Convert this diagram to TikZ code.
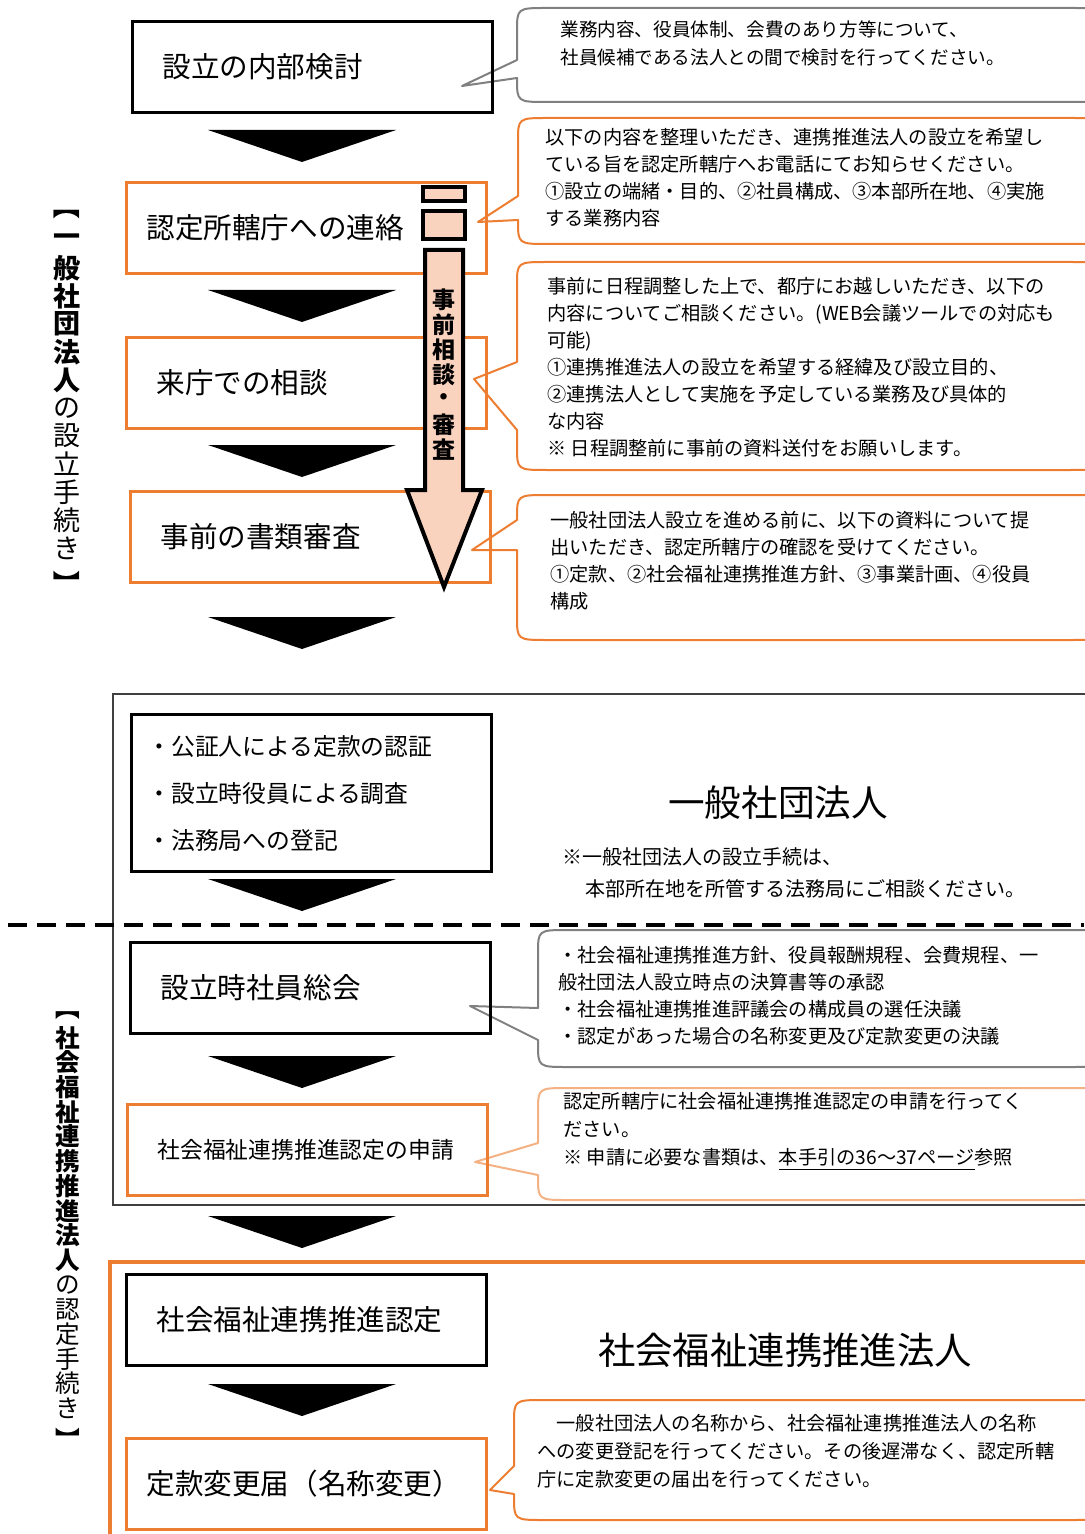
\documentclass[tikz,border=0pt]{standalone}
\usepackage{fontspec}
\usepackage{graphicx}
\setmainfont{Noto Sans CJK JP}
\usetikzlibrary{positioning}

\definecolor{boxorange}{HTML}{ED7D31}
\definecolor{arrowfill}{HTML}{FAD3BE}
\definecolor{bubblegray}{HTML}{808080}
\definecolor{bubbletan}{HTML}{F4B183}
\definecolor{framegray}{HTML}{404040}

% speech bubble: style, left, top, right, bottom, pointer tip, base top, base bottom
\newcommand{\bubble}[8]{%
  \draw[#1] (#6) -- (#2,#7) -- (#2,#3+24) .. controls (#2,#3) .. (#2+30,#3)
    -- (#4-30,#3) .. controls (#4,#3) .. (#4,#3+24) -- (#4,#5-24)
    .. controls (#4,#5) .. (#4-30,#5) -- (#2+30,#5) .. controls (#2,#5) .. (#2,#5-24)
    -- (#2,#8) -- cycle;}

\tikzset{
  box/.style={draw, line width=1.5pt, anchor=north west, minimum height=45.5pt,
    inner xsep=15pt, text width=150pt, align=left,
    font=\fontsize{14.3pt}{17pt}\selectfont},
  orangebox/.style={box, draw=boxorange},
  note/.style={anchor=north west, inner sep=0pt, align=left,
    font=\fontsize{9.6pt}{13.5pt}\selectfont},
  grayline/.style={draw=bubblegray, line width=1pt, fill=white, line join=round},
  orangeline/.style={draw=boxorange, line width=1pt, fill=white, line join=round},
  tanline/.style={draw=bubbletan, line width=1pt, fill=white, line join=round},
  vchar/.style={inner sep=0pt, font=\fontsize{13.5pt}{13.5pt}\selectfont},
  vcharb/.style={vchar, font=\fontsize{13.5pt}{13.5pt}\selectfont\bfseries},
  wchar/.style={inner sep=0pt, font=\fontsize{12.3pt}{12.3pt}\selectfont},
  wcharb/.style={wchar, font=\fontsize{12.3pt}{12.3pt}\selectfont\bfseries},
}

\begin{document}
\begin{tikzpicture}[x=0.5pt, y=-0.5pt]
\useasboundingbox (0,0) rectangle (1084,1534);

% frames
\draw[framegray, line width=1pt] (113,694) rectangle (1100,1205);
\draw[boxorange, line width=2pt] (110,1262) rectangle (1100,1545);

% speech bubbles
\bubble{grayline}{517}{8}{1100}{102}{462,86}{60}{78}
\bubble{orangeline}{518}{118}{1100}{244}{478,222}{196}{220}
\bubble{orangeline}{517}{262}{1100}{470}{474,379}{362}{430}
\bubble{orangeline}{517}{495}{1100}{640}{472,550}{520}{550}
\bubble{grayline}{538}{930}{1100}{1067}{470,1006}{1008}{1040}
\bubble{tanline}{538}{1088}{1100}{1200}{475,1162}{1143}{1175}
\bubble{orangeline}{514}{1400}{1100}{1520}{490,1490}{1466}{1494}

% steps
\node[box] (naibu) at (131,20) {設立の内部検討};
\node[orangebox] (renraku) at (125,181) {\hspace*{-5pt}認定所轄庁への連絡};
\node[orangebox] (soudan) at (125,336) {来庁での相談};
\node[orangebox] (shinsa) at (129,490) {事前の書類審査};
\node[box, minimum height=78.5pt, inner xsep=8pt, text width=164pt,
  font=\fontsize{11.9pt}{23.5pt}\selectfont] (houmu) at (130,713)
  {・公証人による定款の認証\\・設立時役員による調査\\・法務局への登記};
\node[box] (soukai) at (129,941) {設立時社員総会};
\node[orangebox, font=\fontsize{11.4pt}{14pt}\selectfont] (shinsei) at (126,1103)
  {社会福祉連携推進認定の申請};
\node[box] (nintei) at (125,1273) {社会福祉連携推進認定};
\node[orangebox] (teikan) at (125,1437) {\hspace*{-5pt}定款変更届（名称変更）};

% step arrows
\foreach \y in {130,290,445,617,879,1056,1216,1384}
  \fill (208,\y) -- (396,\y) -- (302,\y+32) -- cycle;

% consultation arrow
\draw[line width=2pt, fill=arrowfill] (423,187) rectangle (465,201);
\draw[line width=2pt, fill=arrowfill] (423,211) rectangle (465,239);
\draw[line width=2pt, fill=arrowfill, line join=miter]
  (425,250) -- (463,250) -- (463,490) -- (482,490) -- (444,587)
  -- (407,490) -- (425,490) -- cycle;
\foreach \c [count=\i from 0] in {事,前,相,談,・,審,査}
  \node[inner sep=0pt, font=\fontsize{11.5pt}{11.5pt}\selectfont\bfseries]
    (jz\i) at (444,300+25*\i) {\c};

% side labels
\node[vcharb] (ga0) at (67,206) {\rotatebox{-90}{【}};
\foreach \c [count=\i from 1] in {一,般,社,団,法,人}
  \node[vcharb] (ga\i) at (67,212+28*\i) {\c};
\foreach \c [count=\i from 7] in {の,設,立,手,続,き}
  \node[vchar] (ga\i) at (67,212+28*\i) {\c};
\node[vcharb] (ga13) at (67,584) {\rotatebox{-90}{】}};

\node[wcharb] (sf0) at (68,1008) {\rotatebox{-90}{【}};
\foreach \c [count=\i from 1] in {社,会,福,祉,連,携,推,進,法,人}
  \node[wcharb] (sf\i) at (68,1013+24.7*\i) {\c};
\foreach \c [count=\i from 11] in {の,認,定,手,続,き}
  \node[wchar] (sf\i) at (68,1013+24.7*\i) {\c};
\node[wcharb] (sf17) at (68,1440) {\rotatebox{-90}{】}};

% dashed divider
\draw[line width=2pt, dash pattern=on 9.5pt off 5pt] (8,925) -- (1084,925);

% titles
\node[font=\fontsize{18.3pt}{20pt}\selectfont] (ippan) at (778,803) {一般社団法人};
\node[note, font=\fontsize{10pt}{16pt}\selectfont] (ippannote) at (562,847)
  {※一般社団法人の設立手続は、};
\node[note, font=\fontsize{10pt}{16pt}\selectfont] (ippannote2) at (585,879)
  {本部所在地を所管する法務局にご相談ください。};
\node[font=\fontsize{18.7pt}{20pt}\selectfont] (renkei) at (785,1350) {社会福祉連携推進法人};

% bubble texts
\node[note, font=\fontsize{9.3pt}{14pt}\selectfont] (t1) at (560,20)
  {業務内容、役員体制、会費のあり方等について、\\社員候補である法人との間で検討を行ってください。};
\node[note] (t2) at (545,128)
  {以下の内容を整理いただき、連携推進法人の設立を希望し\\ている旨を認定所轄庁へお電話にてお知らせください。\\①設立の端緒・目的、②社員構成、③本部所在地、④実施\\する業務内容};
\node[note] (t3) at (547,277)
  {事前に日程調整した上で、都庁にお越しいただき、以下の\\内容についてご相談ください。(WEB会議ツールでの対応も\\可能)\\①連携推進法人の設立を希望する経緯及び設立目的、\\②連携法人として実施を予定している業務及び具体的\\な内容\\※ 日程調整前に事前の資料送付をお願いします。};
\node[note] (t4) at (550,511)
  {一般社団法人設立を進める前に、以下の資料について提\\出いただき、認定所轄庁の確認を受けてください。\\①定款、②社会福祉連携推進方針、③事業計画、④役員\\構成};
\node[note] (t5) at (558,946)
  {・社会福祉連携推進方針、役員報酬規程、会費規程、一\\般社団法人設立時点の決算書等の承認\\・社会福祉連携推進評議会の構成員の選任決議\\・認定があった場合の名称変更及び定款変更の決議};
\node[note, font=\fontsize{9.6pt}{14pt}\selectfont] (t6) at (563,1092)
  {認定所轄庁に社会福祉連携推進認定の申請を行ってく\\ださい。\\※ 申請に必要な書類は、\underline{本手引の36～37ページ}参照};
\node[note, font=\fontsize{9.6pt}{14pt}\selectfont] (t7) at (537,1414)
  {　一般社団法人の名称から、社会福祉連携推進法人の名称\\への変更登記を行ってください。その後遅滞なく、認定所轄\\庁に定款変更の届出を行ってください。};
\end{tikzpicture}
\end{document}
